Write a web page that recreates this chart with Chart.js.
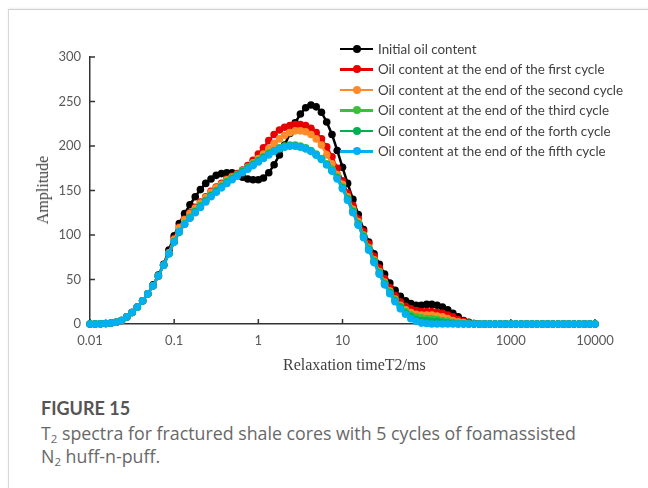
<!DOCTYPE html>
<html>
<head>
<meta charset="utf-8">
<script src="https://cdn.jsdelivr.net/npm/chart.js@4.4.0/dist/chart.umd.min.js"></script>
<style>
  html, body { margin: 0; padding: 0; background: #fff; }
  body { width: 648px; height: 488px; position: relative; overflow: hidden; font-family: Lato, "Open Sans", sans-serif; }
  .card { position: absolute; left: 8px; top: 9px; width: 660px; height: 500px; border-top: 1px solid #cfcfcf; border-left: 1px solid #d8d8d8; box-shadow: 0 -1px 2px rgba(0,0,0,0.06); }
  #chart { position: absolute; left: 0; top: 0; }
  .ytitle { position: absolute; left: 43px; top: 190px; transform: translate(-50%, -50%) rotate(-90deg); font: 16px "Liberation Serif", serif; color: #404040; white-space: nowrap; }
  .xtitle { position: absolute; left: 283px; top: 356px; font: 16px "Liberation Serif", serif; color: #404040; white-space: nowrap; }
  #legend { position: absolute; left: 340px; top: 38.5px; font-size: 13.4px; color: #404040; }
  #legend .row { height: 20.5px; display: flex; align-items: center; white-space: nowrap; }
  #legend .sw { position: relative; width: 33px; height: 8px; margin-right: 5px; }
  #legend .sw .ln { position: absolute; left: 0; right: 0; top: 2.75px; height: 2.5px; }
  #legend .sw .dt { position: absolute; left: 13px; top: 0; width: 8px; height: 8px; border-radius: 50%; }
  .fig { position: absolute; left: 41px; top: 397px; font-size: 18px; font-weight: 700; color: #555; line-height: 22px; }
  .cap { position: absolute; left: 41px; top: 422px; font-family: "Open Sans", Lato, sans-serif; font-size: 17.8px; color: #686868; line-height: 23px; width: 600px; }
  .cap sub { font-size: 11.5px; vertical-align: -3px; line-height: 0; }
</style>
</head>
<body>
<div class="card"></div>
<canvas id="chart" width="648" height="380"></canvas>
<div class="ytitle">Amplitude</div>
<div class="xtitle">Relaxation timeT2/ms</div>
<div id="legend"></div>
<div class="fig">FIGURE 15</div>
<div class="cap">T<sub>2</sub> spectra for fractured shale cores with 5 cycles of foamassisted<br>N<sub>2</sub> huff-n-puff.</div>
<script>
// relaxation time grid (ms), 16 points per decade
const t2 = [
  0.01, 0.0115, 0.0133, 0.0154, 0.0178, 0.0205, 0.0237, 0.0274, 0.0316, 0.0365, 0.0422, 0.0487, 0.0562, 0.0649, 0.075, 0.0866,
  0.1, 0.115, 0.133, 0.154, 0.178, 0.205, 0.237, 0.274, 0.316, 0.365, 0.422, 0.487, 0.562, 0.649, 0.75, 0.866,
  1, 1.15, 1.33, 1.54, 1.78, 2.05, 2.37, 2.74, 3.16, 3.65, 4.22, 4.87, 5.62, 6.49, 7.5, 8.66,
  10, 11.5, 13.3, 15.4, 17.8, 20.5, 23.7, 27.4, 31.6, 36.5, 42.2, 48.7, 56.2, 64.9, 75, 86.6,
  100, 115, 133, 154, 178, 205, 237, 274, 316, 365, 422, 487, 562, 649, 750, 866,
  1000, 1150, 1330, 1540, 1780, 2050, 2370, 2740, 3160, 3650, 4220, 4870, 5620, 6490, 7500, 8660,
  10000
];

const initialOil = [
  0, 0, 0.2, 0.5, 1, 2, 4, 8, 13, 19, 26, 34, 44, 55, 67, 83,
  99, 113, 124, 134, 143, 151, 158, 163, 167, 169, 170, 170, 168, 165, 163, 162,
  162, 164, 170, 179, 190, 201, 214, 226, 236, 243, 246, 244, 238, 227, 213, 195,
  176, 158, 140, 123, 106, 92, 79, 67, 56, 46, 38, 31, 26, 23, 21, 21,
  22, 22, 21, 19, 16, 12, 8, 4, 2, 0.5, 0, 0, 0, 0, 0, 0,
  0, 0, 0, 0, 0, 0, 0, 0, 0, 0, 0, 0, 0, 0, 0, 0,
  0
];
const cycle1 = [
  0, 0, 0.2, 0.5, 1, 2, 4, 8, 13, 19, 26, 34, 43, 54, 66, 80,
  96, 109, 118, 125, 131, 137, 143, 149, 154, 158, 163, 166, 169, 173, 178, 184,
  191, 198, 206, 213, 218, 221, 223, 224, 224, 223, 220, 215, 208, 199, 188, 175,
  161, 147, 133, 118, 104, 90, 76, 63, 51, 41, 32, 25, 20, 17, 15, 14,
  14, 14, 13, 12, 10, 8, 5, 3, 1.5, 0.5, 0, 0, 0, 0, 0, 0,
  0, 0, 0, 0, 0, 0, 0, 0, 0, 0, 0, 0, 0, 0, 0, 0,
  0
];
const cycle2 = [
  0, 0, 0.2, 0.5, 1, 2, 4, 8, 13, 19, 26, 34, 43, 54, 66, 80,
  95, 108, 117, 124, 130, 136, 142, 148, 153, 157, 162, 165, 168, 172, 176, 181,
  186, 191, 197, 203, 208, 212, 215, 217, 217, 216, 213, 208, 201, 190, 180, 168,
  157, 143, 129, 115, 100, 86, 72, 59, 47, 37, 28, 21, 16, 13, 11, 10,
  10, 10, 9, 8, 6, 4, 2.5, 1.5, 0.5, 0, 0, 0, 0, 0, 0, 0,
  0, 0, 0, 0, 0, 0, 0, 0, 0, 0, 0, 0, 0, 0, 0, 0,
  0
];
const cycle3 = [
  0, 0, 0.2, 0.5, 1, 2, 4, 8, 13, 19, 26, 34, 43, 54, 66, 79,
  93, 104, 113, 120, 127, 133, 139, 145, 150, 155, 160, 164, 168, 172, 176, 180,
  184, 188, 192, 195, 198, 200, 201, 201, 200, 198, 195, 191, 186, 180, 174, 165,
  154, 141, 127, 113, 99, 85, 71, 58, 46, 36, 27, 20, 14, 10, 8, 7,
  6, 6, 5, 4, 3, 2, 1, 0.5, 0, 0, 0, 0, 0, 0, 0, 0,
  0, 0, 0, 0, 0, 0, 0, 0, 0, 0, 0, 0, 0, 0, 0, 0,
  0
];
const cycle4 = [
  0, 0, 0.2, 0.5, 1, 2, 4, 8, 13, 19, 26, 34, 43, 54, 66, 79,
  92, 103, 112, 119, 126, 132, 138, 144, 149, 154, 159, 163, 167, 171, 175, 179,
  183, 187, 191, 194, 197, 199, 200, 200, 199, 197, 194, 190, 185, 179, 172, 164,
  153, 140, 126, 112, 98, 84, 70, 57, 45, 35, 26, 19, 12, 8, 5, 4,
  4, 3, 3, 2, 1, 0.5, 0, 0, 0, 0, 0, 0, 0, 0, 0, 0,
  0, 0, 0, 0, 0, 0, 0, 0, 0, 0, 0, 0, 0, 0, 0, 0,
  0
];
const cycle5 = [
  0, 0, 0.2, 0.5, 1, 2, 4, 8, 13, 19, 26, 34, 43, 54, 66, 79,
  92, 104, 112, 119, 125, 131, 137, 143, 148, 153, 158, 162, 166, 170, 174, 178,
  182, 186, 190, 194, 197, 199, 200, 200, 199, 197, 194, 190, 185, 179, 172, 163,
  152, 139, 125, 111, 97, 83, 69, 56, 44, 34, 25, 17, 11, 6, 3, 1,
  0.5, 0, 0, 0, 0, 0, 0, 0, 0, 0, 0, 0, 0, 0, 0, 0,
  0, 0, 0, 0, 0, 0, 0, 0, 0, 0, 0, 0, 0, 0, 0, 0,
  0
];

const seriesNames = [
  "Initial oil content",
  "Oil content at the end of the first cycle",
  "Oil content at the end of the second cycle",
  "Oil content at the end of the third cycle",
  "Oil content at the end of the forth cycle",
  "Oil content at the end of the fifth cycle"
];
const seriesColors = ["#000000", "#E60000", "#FF8C28", "#3CC03C", "#00B050", "#00B0F0"];
const seriesValues = [initialOil, cycle1, cycle2, cycle3, cycle4, cycle5];

const xTicks = [0.01, 0.1, 1, 10, 100, 1000, 10000];
const xTickLabels = ["0.01", "0.1", "1", "10", "100", "1000", "10000"];
const yTicks = [0, 50, 100, 150, 200, 250, 300];

seriesValues.forEach((s, i) => {
  if (s.length !== t2.length) throw new Error("series " + i + " has " + s.length + " points");
});

const axisColor = "#333333";
const tickFont = { family: "Lato, 'Open Sans', sans-serif", size: 13 };

const insideTicks = {
  id: "insideTicks",
  beforeDatasetsDraw: (chart) => {
    const ctx = chart.ctx;
    const xAxis = chart.scales.x;
    const yAxis = chart.scales.y;
    ctx.save();
    ctx.strokeStyle = axisColor;
    ctx.lineWidth = 1.5;
    yTicks.forEach((v) => {
      const y = yAxis.getPixelForValue(v);
      ctx.beginPath();
      ctx.moveTo(xAxis.left, y);
      ctx.lineTo(xAxis.left + 5, y);
      ctx.stroke();
    });
    xTicks.forEach((v) => {
      const x = xAxis.getPixelForValue(v);
      ctx.beginPath();
      ctx.moveTo(x, yAxis.bottom);
      ctx.lineTo(x, yAxis.bottom - 5);
      ctx.stroke();
    });
    ctx.restore();
  },
};

const datasets = seriesValues.map((vals, i) => ({
  label: seriesNames[i],
  data: vals.map((v, j) => ({ x: t2[j], y: v })),
  borderColor: seriesColors[i],
  backgroundColor: seriesColors[i],
  pointBackgroundColor: seriesColors[i],
  pointBorderWidth: 0,
  pointRadius: 3.8,
  borderWidth: 2.5,
  tension: 0,
  fill: false,
  clip: false,
  order: seriesValues.length - i,
}));

new Chart(document.getElementById("chart"), {
  type: "line",
  data: { datasets },
  plugins: [insideTicks],
  options: {
    responsive: false,
    animation: false,
    layout: { padding: { left: 0, right: 53, top: 57, bottom: 0 } },
    plugins: { legend: { display: false }, tooltip: { enabled: false } },
    scales: {
      x: {
        type: "logarithmic",
        min: 0.01,
        max: 10000,
        afterBuildTicks: (scale) => {
          scale.ticks = xTicks.map((v) => ({ value: v }));
        },
        afterFit: (scale) => { scale.height = 56; },
        ticks: {
          autoSkip: false,
          maxRotation: 0,
          padding: 9,
          color: "#595959",
          font: tickFont,
          callback: (value, index) => xTickLabels[index],
        },
        grid: { display: false, drawTicks: false },
        border: { display: true, color: axisColor, width: 1.5 },
      },
      y: {
        min: 0,
        max: 300,
        afterBuildTicks: (scale) => {
          scale.ticks = yTicks.map((v) => ({ value: v }));
        },
        afterFit: (scale) => { scale.width = 90; },
        ticks: {
          padding: 9,
          color: "#595959",
          font: tickFont,
        },
        grid: { display: false, drawTicks: false },
        border: { display: true, color: axisColor, width: 1.5 },
      },
    },
  },
});

const legend = document.getElementById("legend");
seriesNames.forEach((name, i) => {
  const row = document.createElement("div");
  row.className = "row";
  row.innerHTML = '<span class="sw"><span class="ln" style="background:' + seriesColors[i] + '"></span>' +
    '<span class="dt" style="background:' + seriesColors[i] + '"></span></span><span>' + name + '</span>';
  legend.appendChild(row);
});
</script>
</body>
</html>
